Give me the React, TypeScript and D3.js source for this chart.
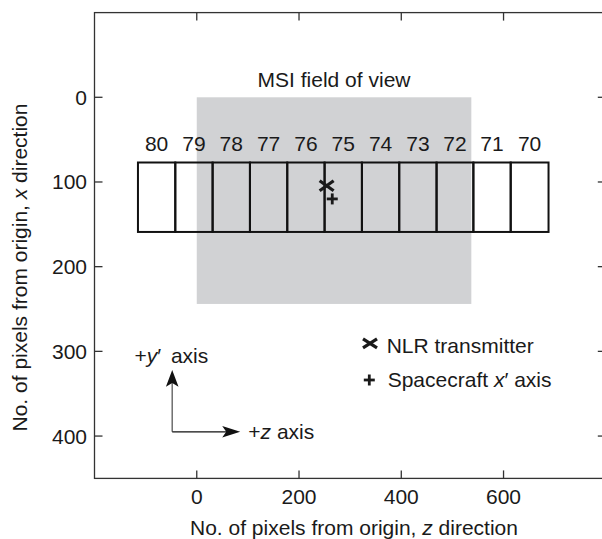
import React from "react";
import * as d3 from "d3";

// ---- data ----
const channelLabels = ["80", "79", "78", "77", "76", "75", "74", "73", "72", "71", "70"];
// z-edges of the 11 footprint boxes (pixels from origin, z direction)
const channelEdges = [-115, -42, 31, 104, 177, 250, 323, 396, 469, 541, 614, 688];
const channelTop = 77; // x direction
const channelBottom = 159;
const msiZ = [0, 537];
const msiX = [0, 244];
const nlrTransmitter = { z: 254, x: 104.5 };
const spacecraftAxis = { z: 265, x: 120 };
const zTicks = [0, 200, 400, 600];
const xTicks = [0, 100, 200, 300, 400];
const zDomain = [-200, 800];
const xDomain = [-100, 450];
// orientation arrows (data units)
const arrowOrigin = { z: -48, x: 395 };
const arrowUpTipX = 322;
const arrowRightTipZ = 85;

const FONT = "'Liberation Sans', Arial, Helvetica, sans-serif";
const FS = 21;
const INK = "#1a1a1a";

export default function App() {
  const W = 602, H = 539;
  const zs = d3.scaleLinear().domain(zDomain).range([94.5, 605.8]);
  const xs = d3.scaleLinear().domain(xDomain).range([12.6, 478.4]);
  const L = zs(zDomain[0]), R = zs(zDomain[1]), T = xs(xDomain[0]), B = xs(xDomain[1]);
  const tick = 8;
  const frame = "#333";

  const boxes = channelLabels.map((lab, i) => ({ lab, z0: channelEdges[i], z1: channelEdges[i + 1] }));

  const ox = zs(arrowOrigin.z), oy = xs(arrowOrigin.x);
  const upTip = xs(arrowUpTipX);
  const rightTip = zs(arrowRightTipZ);

  const xMark = (cx: number, cy: number, hw: number, hh: number, sw: number) => (
    <g stroke={INK} strokeWidth={sw} strokeLinecap="butt">
      <line x1={cx - hw} y1={cy - hh} x2={cx + hw} y2={cy + hh} />
      <line x1={cx - hw} y1={cy + hh} x2={cx + hw} y2={cy - hh} />
    </g>
  );
  const plusMark = (cx: number, cy: number, h: number, sw: number) => (
    <g stroke={INK} strokeWidth={sw}>
      <line x1={cx - h} y1={cy} x2={cx + h} y2={cy} />
      <line x1={cx} y1={cy - h} x2={cx} y2={cy + h} />
    </g>
  );

  return (
    <svg width={W} height={H} style={{ position: "absolute", left: 0, top: 0, background: "#fff" }}
      fontFamily={FONT} fontSize={FS} fill={INK}>
      {/* MSI field of view */}
      <rect x={zs(msiZ[0])} y={xs(msiX[0])} width={zs(msiZ[1]) - zs(msiZ[0])} height={xs(msiX[1]) - xs(msiX[0])}
        fill="#d1d2d4" />
      <text x={(zs(msiZ[0]) + zs(msiZ[1])) / 2} y={86.7} textAnchor="middle">MSI field of view</text>

      {/* footprint boxes */}
      {boxes.map((b) => (
        <rect key={"b" + b.lab} x={zs(b.z0)} y={xs(channelTop)} width={zs(b.z1) - zs(b.z0)}
          height={xs(channelBottom) - xs(channelTop)} fill="none" stroke="#111" strokeWidth={2} />
      ))}
      {boxes.map((b) => (
        <text key={"t" + b.lab} x={(zs(b.z0) + zs(b.z1)) / 2} y={150.7} textAnchor="middle">{b.lab}</text>
      ))}

      {/* markers */}
      {xMark(zs(nlrTransmitter.z), xs(nlrTransmitter.x), 7, 5, 3.2)}
      {plusMark(zs(spacecraftAxis.z), xs(spacecraftAxis.x), 5.5, 2.8)}

      {/* frame */}
      <g stroke={frame} strokeWidth={1.3} fill="none">
        <rect x={L} y={T} width={R - L} height={B - T} />
        {zTicks.map((t) => (
          <g key={"zt" + t}>
            <line x1={zs(t)} x2={zs(t)} y1={T} y2={T + tick} />
            <line x1={zs(t)} x2={zs(t)} y1={B} y2={B - tick} />
          </g>
        ))}
        {xTicks.map((t) => (
          <g key={"xt" + t}>
            <line x1={L} x2={L + tick} y1={xs(t)} y2={xs(t)} />
            <line x1={R} x2={R - tick} y1={xs(t)} y2={xs(t)} />
          </g>
        ))}
      </g>
      {zTicks.map((t) => (
        <text key={"zl" + t} x={zs(t)} y={503.5} textAnchor="middle">{t}</text>
      ))}
      {xTicks.map((t) => (
        <text key={"xl" + t} x={L - 7.5} y={xs(t) + 7.5} textAnchor="end">{t}</text>
      ))}

      {/* axis titles */}
      <text x={354} y={535} textAnchor="middle">
        No. of pixels from origin, <tspan fontStyle="italic">z</tspan> direction
      </text>
      <text transform={`translate(26.7,267.5) rotate(-90)`} textAnchor="middle">
        No. of pixels from origin, <tspan fontStyle="italic">x</tspan> direction
      </text>

      {/* legend */}
      {xMark(370, 343.3, 7, 4.5, 3.2)}
      <text x={386.7} y={352.7}>NLR transmitter</text>
      {plusMark(369.3, 380, 5.5, 2.8)}
      <text x={387.7} y={386.7}>
        Spacecraft <tspan fontStyle="italic">x</tspan>′ axis
      </text>

      {/* orientation arrows */}
      <line x1={ox} y1={oy} x2={ox} y2={upTip + 10} stroke="#6e6e6e" strokeWidth={1.5} />
      <path d={`M${ox},${upTip} L${ox + 6.3},${upTip + 16.7} L${ox},${upTip + 13} L${ox - 6.3},${upTip + 16.7} Z`}
        fill="#111" />
      <line x1={ox} y1={oy} x2={rightTip - 10} y2={oy} stroke="#111" strokeWidth={1.3} />
      <path d={`M${rightTip},${oy} L${rightTip - 18},${oy - 5.8} L${rightTip - 14},${oy} L${rightTip - 18},${oy + 5.8} Z`}
        fill="#111" />
      <text x={134.4} y={363.3}>
        +<tspan fontStyle="italic">y</tspan>′ <tspan dx={4}>axis</tspan>
      </text>
      <text x={248.3} y={438.5}>
        +<tspan fontStyle="italic">z</tspan> axis
      </text>
    </svg>
  );
}
